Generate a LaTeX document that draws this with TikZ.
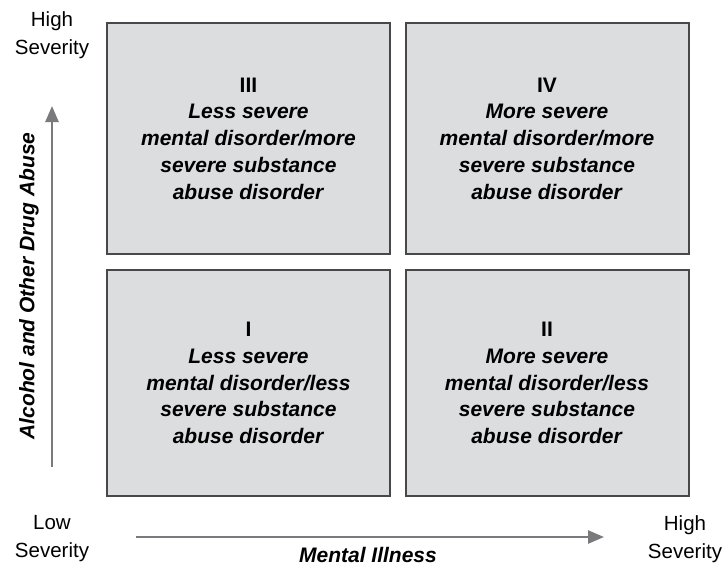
\documentclass[tikz,border=0pt]{standalone}
\usepackage{fontspec}
\setmainfont{Liberation Sans}
\usetikzlibrary{arrows.meta}

\definecolor{boxfill}{RGB}{220,221,223}
\definecolor{boxline}{RGB}{72,72,74}
\definecolor{axisgray}{RGB}{122,122,124}

\tikzset{
    quadbox/.style={draw=boxline, line width=2pt, fill=boxfill,
        minimum width=283pt, minimum height=231pt, inner sep=0pt,
        align=center, font=\fontsize{21}{26.7}\selectfont\bfseries},
    axisarrow/.style={draw=axisgray, line width=2.6pt,
        -{Triangle[length=16pt, width=13pt]}},
    sevlabel/.style={align=center, font=\fontsize{20.5}{28}\selectfont},
    axistitle/.style={font=\fontsize{21}{25}\selectfont\bfseries\itshape}
}

\begin{document}
\begin{tikzpicture}[x=1pt, y=-1pt]
    \useasboundingbox (0, 0) rectangle (726, 566);
    % quadrants
    \node[quadbox] (q3) at (248.5, 138.5) {III\\\textit{Less severe}\\\textit{mental disorder/more}\\\textit{severe substance}\\\textit{abuse disorder}};
    \node[quadbox] (q4) at (547, 138.5) {IV\\\textit{More severe}\\\textit{mental disorder/more}\\\textit{severe substance}\\\textit{abuse disorder}};
    \node[quadbox, minimum height=226pt] (q1) at (248.5, 383) {I\\\textit{Less severe}\\\textit{mental disorder/less}\\\textit{severe substance}\\\textit{abuse disorder}};
    \node[quadbox, minimum height=226pt] (q2) at (547, 383) {II\\\textit{More severe}\\\textit{mental disorder/less}\\\textit{severe substance}\\\textit{abuse disorder}};
    % severity labels
    \node[sevlabel] (hightop) at (52, 35) {High\\Severity};
    \node[sevlabel] (lowsev) at (52, 539) {Low\\Severity};
    \node[sevlabel] (highright) at (685, 539) {High\\Severity};
    % axes
    \coordinate (ybot) at (52, 467);
    \coordinate (ytop) at (52, 106);
    \coordinate (xleft) at (136, 537);
    \coordinate (xright) at (604, 537);
    \draw[axisarrow] (ybot) -- (ytop);
    \draw[axisarrow] (xleft) -- (xright);
    \node[axistitle, rotate=90] (ytitle) at (29, 286) {Alcohol and Other Drug Abuse};
    \node[axistitle] (xtitle) at (368, 555) {Mental Illness};
\end{tikzpicture}
\end{document}
